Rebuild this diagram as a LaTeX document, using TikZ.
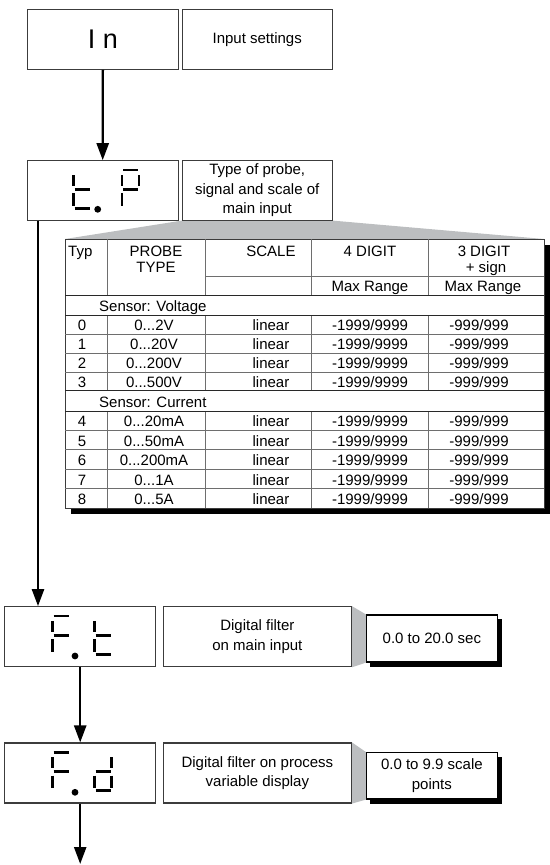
\documentclass[tikz,border=0pt]{standalone}
\usepackage{fontspec}
\setmainfont{Liberation Sans}
\usetikzlibrary{arrows.meta,calc}
\pgfdeclarelayer{background}
\pgfsetlayers{background,main}
\definecolor{wedge}{RGB}{188,190,192}
\definecolor{frame}{RGB}{60,60,60}
\definecolor{rulel}{RGB}{110,110,110}
\definecolor{ruled}{RGB}{40,40,40}
\newcommand{\sgA}[2]{\draw[seg] ({#1+1.3},{#2}) -- ({#1+16.3},{#2});}
\newcommand{\sgB}[2]{\draw[seg] ({#1+17},{#2+5}) -- ({#1+17},{#2+15.7});}
\newcommand{\sgC}[2]{\draw[seg] ({#1+17},{#2+23.3}) -- ({#1+17},{#2+35.7});}
\newcommand{\sgD}[2]{\draw[seg] ({#1+1.3},{#2+38.3}) -- ({#1+16.3},{#2+38.3});}
\newcommand{\sgE}[2]{\draw[seg] ({#1},{#2+23.3}) -- ({#1},{#2+35.7});}
\newcommand{\sgF}[2]{\draw[seg] ({#1},{#2+5}) -- ({#1},{#2+15.7});}
\newcommand{\sgG}[2]{\draw[seg] ({#1+1.3},{#2+19.3}) -- ({#1+16.3},{#2+19.3});}
\newcommand{\segdigit}[3]{\foreach \s in {#3}{\csname sg\s\endcsname{#1}{#2}}}
\newcommand{\trow}[4]{%
  \node[tt] (typ#4) at (82,#1) {#2};
  \node[tt] (prb#4) at (154,#1) {#3};
  \node[tt] (scl#4) at (271,#1) {linear};
  \node[tt] (dgf#4) at (370,#1) {-1999/9999};
  \node[tt] (dgt#4) at (479,#1) {-999/999};}
\begin{document}
\begin{tikzpicture}[x=1pt,y=-1pt,
  lbl/.style={font=\fontsize{15}{19.6}\selectfont},
  box/.style={draw=frame, line width=1.1pt, fill=white, inner sep=0pt, align=center, lbl},
  sbox/.style={draw=black, line width=1.2pt, fill=white, inner sep=0pt, align=center, lbl},
  arr/.style={line width=2.4pt, -{Triangle[length=17pt,width=12pt]}},
  seg/.style={line width=2.6pt},
  tt/.style={font=\fontsize{15}{18}\selectfont, inner sep=0pt, anchor=base},
  tl/.style={draw=rulel, line width=0.8pt},
  tk/.style={draw=ruled, line width=1pt}]
\useasboundingbox (0,0) rectangle (549,865);

% ---- top boxes
\node[box, minimum width=151pt, minimum height=60.3pt, font=\fontsize{27}{30}\selectfont] (In) at (102.8,39.2) {I n};
\node[box, minimum width=149.7pt, minimum height=60.3pt] (inset) at (257.2,39.2) {Input settings};
\node[box, minimum width=150.7pt, minimum height=59.3pt] (tP) at (102.7,190.4) {};
\node[box, minimum width=149.7pt, minimum height=59.3pt] (probe) at (257.2,190.4) {Type of probe,\\signal and scale of\\main input};
\draw[arr] (In.south) -- (tP.north);

% t.P segments
\segdigit{73.3}{170}{F,E,G,D}
\fill (97.7,209.3) circle (3.4pt);
\segdigit{122}{170}{A,B,F,G,E}

% ---- table
\coordinate (tabTL) at (65,239);
\coordinate (tabTR) at (544,239);
\begin{pgfonlayer}{background}
\fill[wedge] (probe.south west) -- (probe.south east) -- (tabTR) -- (tabTL) -- cycle;
\end{pgfonlayer}
\fill[black] (70.5,244.5) rectangle (550,514);
\draw[frame, fill=white, line width=0.9pt] (tabTL) rectangle (544,508);
\foreach \x in {107,205,311,428}{
  \draw[tl] (\x,239) -- (\x,295);
  \draw[tl] (\x,315.5) -- (\x,390.7);
  \draw[tl] (\x,411) -- (\x,508);}
\draw[tl] (205,276) -- (544,276);
\foreach \y in {295,315.5,390.7,411}{\draw[tk] (65,\y) -- (544,\y);}
\foreach \y in {334.3,353.1,371.9,430.4,449.8,469.2,488.6}{\draw[tl] (65,\y) -- (544,\y);}

\node[tt, anchor=base west] (hTyp) at (68,256.5) {Typ};
\node[tt] (hProbe) at (156,256.5) {PROBE};
\node[tt] (hType) at (156,272.5) {TYPE};
\node[tt] (hScale) at (271,256.5) {SCALE};
\node[tt] (hFour) at (370,256.5) {4 DIGIT};
\node[tt] (hThree) at (484,256.5) {3 DIGIT};
\node[tt] (hSign) at (486,272.5) {+ sign};
\node[tt] (hMaxA) at (370,291.5) {Max Range};
\node[tt] (hMaxB) at (483,291.5) {Max Range};
\node[tt, anchor=base west] (sVolt) at (99,311.5) {Sensor: Voltage};
\trow{330.8}{0}{0...2V}{0}
\trow{349.6}{1}{0...20V}{1}
\trow{368.4}{2}{0...200V}{2}
\trow{387.2}{3}{0...500V}{3}
\node[tt, anchor=base west] (sCurr) at (99,407.3) {Sensor: Current};
\trow{426.9}{4}{0...20mA}{4}
\trow{446.3}{5}{0...50mA}{5}
\trow{465.7}{6}{0...200mA}{6}
\trow{485.1}{7}{0...1A}{7}
\trow{504.5}{8}{0...5A}{8}

% ---- bottom section
\node[box, minimum width=151pt, minimum height=60pt] (Ft) at (80.2,636.7) {};
\node[box, minimum width=188.2pt, minimum height=60pt] (df1) at (257.4,636.7) {Digital filter\\on main input};
\node[sbox, minimum width=130.8pt, minimum height=47pt] (sb1) at (431.9,638.5) {0.0 to 20.0 sec};
\node[box, minimum width=151pt, minimum height=60pt] (Fd) at (80.2,773) {};
\node[box, minimum width=188.2pt, minimum height=60pt] (df2) at (257.4,773) {Digital filter on process\\variable display};
\node[sbox, minimum width=130.8pt, minimum height=46.4pt] (sb2) at (431.9,775.8) {0.0 to 9.9 scale\\points};
\begin{pgfonlayer}{background}
\fill[wedge] (df1.north east) -- (sb1.north west) -- (sb1.south west) -- (df1.south east) -- cycle;
\fill[wedge] (df2.north east) -- (sb2.north west) -- (sb2.south west) -- (df2.south east) -- cycle;
\fill[black] ([shift={(4.5,4.5)}]sb1.north west) rectangle ([shift={(4.5,4.5)}]sb1.south east);
\fill[black] ([shift={(4.5,4.5)}]sb2.north west) rectangle ([shift={(4.5,4.5)}]sb2.south east);
\end{pgfonlayer}

% F.t segments
\segdigit{52.3}{616}{A,F,G,E}
\fill (75,656) circle (3.4pt);
\segdigit{94.3}{616}{F,E,G,D}
% F.d segments
\segdigit{52.3}{752.3}{A,F,G,E}
\fill (75,792.3) circle (3.4pt);
\segdigit{94.3}{752.3}{B,G,E,C,D}

% ---- connectors
\coordinate (tPout) at ([xshift=11.2pt]tP.south west);
\draw[arr] (tPout) -- (tPout |- Ft.north);
\draw[arr] (Ft.south) -- (Fd.north);
\coordinate (endc) at (80.2,864);
\draw[arr] (Fd.south) -- (endc);
\end{tikzpicture}
\end{document}
